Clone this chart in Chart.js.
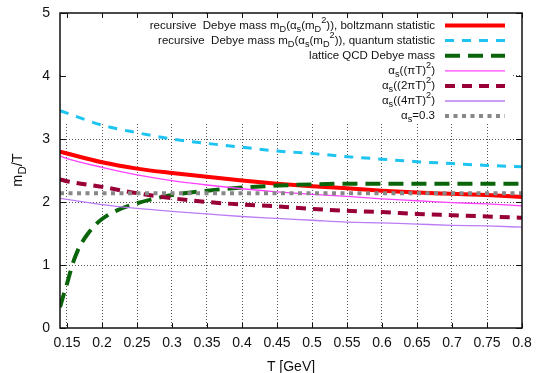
<!DOCTYPE html>
<html>
<head>
<meta charset="utf-8">
<script src="https://cdn.jsdelivr.net/npm/chart.js@4"></script>
<style>
  html, body { margin: 0; padding: 0; background: #fff; }
</style>
</head>
<body>
<canvas id="chart" width="536" height="373"></canvas>
<script>
// temperatures (GeV) for the perturbative curves
const tValues = [0.14, 0.15, 0.2, 0.25, 0.3, 0.35, 0.4, 0.45, 0.5, 0.55, 0.6, 0.65, 0.7, 0.75, 0.8];
const boltzmann = [2.80, 2.77, 2.63, 2.53, 2.46, 2.40, 2.34, 2.29, 2.25, 2.22, 2.18, 2.15, 2.13, 2.11, 2.08];
const quantum   = [3.45, 3.41, 3.22, 3.10, 3.00, 2.93, 2.87, 2.81, 2.77, 2.72, 2.68, 2.64, 2.61, 2.58, 2.56];
const alphaPiT  = [2.73, 2.69, 2.55, 2.43, 2.34, 2.27, 2.21, 2.16, 2.12, 2.09, 2.05, 2.02, 1.99, 1.97, 1.94];
const alpha2PiT = [2.36, 2.33, 2.24, 2.14, 2.06, 2.00, 1.96, 1.93, 1.89, 1.86, 1.84, 1.81, 1.79, 1.77, 1.75];
const alpha4PiT = [2.06, 2.04, 1.96, 1.90, 1.85, 1.81, 1.77, 1.74, 1.71, 1.68, 1.67, 1.65, 1.63, 1.62, 1.60];

// lattice QCD
const latticeT = [0.14, 0.145, 0.15, 0.155, 0.16, 0.165, 0.17, 0.18, 0.19, 0.2, 0.22, 0.25, 0.3, 0.35, 0.4, 0.45, 0.5, 0.55, 0.6, 0.7, 0.8];
const lattice  = [0.33, 0.52, 0.70, 0.90, 1.08, 1.22, 1.33, 1.50, 1.63, 1.73, 1.86, 1.98, 2.11, 2.18, 2.23, 2.26, 2.28, 2.29, 2.29, 2.29, 2.29];

// alpha_s = 0.3 constant
const constT = [0.14, 0.8];
const alphaConst = [2.14, 2.14];

const xTicks = [0.15, 0.2, 0.25, 0.3, 0.35, 0.4, 0.45, 0.5, 0.55, 0.6, 0.65, 0.7, 0.75, 0.8];
const yTicks = [0, 1, 2, 3, 4, 5];

const seriesNames = [
  'recursive  Debye mass m_D(α_s(m_D^2)), boltzmann statistic',
  'recursive  Debye mass m_D(α_s(m_D^2)), quantum statistic',
  'lattice QCD Debye mass',
  'α_s((πT)^2)',
  'α_s((2πT)^2)',
  'α_s((4πT)^2)',
  'α_s=0.3'
];

const FONT = '"Liberation Sans", Arial, Helvetica, sans-serif';

const pts = (xs, ys) => xs.map((x, i) => ({ x: x, y: ys[i] }));

// split "m_D^2" style text into pieces with sub/superscript shifts
function parseRich(s) {
  const out = [];
  let buf = '', i = 0;
  while (i < s.length) {
    const c = s[i];
    if ((c === '_' || c === '^') && i + 1 < s.length) {
      if (buf) { out.push({ text: buf, shift: 0 }); buf = ''; }
      let seg;
      if (s[i + 1] === '{') { const j = s.indexOf('}', i + 2); seg = s.slice(i + 2, j); i = j + 1; }
      else { seg = s[i + 1]; i += 2; }
      out.push({ text: seg, shift: c === '_' ? 1 : -1 });
    } else { buf += c; i++; }
  }
  if (buf) out.push({ text: buf, shift: 0 });
  return out;
}

function richWidth(ctx, parts, size) {
  let w = 0;
  parts.forEach(p => {
    ctx.font = (p.shift ? size * 0.8 : size) + 'px ' + FONT;
    w += ctx.measureText(p.text).width;
  });
  return w;
}

function drawRich(ctx, s, x, y, size, align) {
  const parts = parseRich(s);
  const w = richWidth(ctx, parts, size);
  let cx = align === 'right' ? x - w : align === 'center' ? x - w / 2 : x;
  ctx.textBaseline = 'middle';
  ctx.textAlign = 'left';
  parts.forEach(p => {
    const sz = p.shift ? size * 0.8 : size;
    ctx.font = sz + 'px ' + FONT;
    const dy = p.shift === 1 ? size * 0.32 : p.shift === -1 ? -size * 0.45 : 0;
    ctx.fillText(p.text, cx, y + dy);
    cx += ctx.measureText(p.text).width;
  });
}

const gnuplotLook = {
  id: 'gnuplotLook',
  beforeDatasetsDraw(chart) {
    // opaque key box hides the grid behind it
    const ctx = chart.ctx, a = chart.chartArea;
    ctx.save();
    ctx.fillStyle = '#fff';
    ctx.fillRect(a.left + 1, a.top + 1, 452, 110);
    ctx.restore();
  },
  afterDraw(chart) {
    const ctx = chart.ctx, a = chart.chartArea;
    const xs = chart.scales.x, ys = chart.scales.y;
    ctx.save();
    // frame and inward ticks
    ctx.strokeStyle = '#111';
    ctx.lineWidth = 1.5;
    ctx.strokeRect(a.left, a.top, a.right - a.left, a.bottom - a.top);
    ctx.lineWidth = 1;
    ctx.beginPath();
    xTicks.forEach(v => {
      const px = Math.round(xs.getPixelForValue(v)) + 0.5;
      ctx.moveTo(px, a.bottom); ctx.lineTo(px, a.bottom - 5);
      ctx.moveTo(px, a.top); ctx.lineTo(px, a.top + 5);
    });
    yTicks.forEach(v => {
      const py = Math.round(ys.getPixelForValue(v)) + 0.5;
      ctx.moveTo(a.left, py); ctx.lineTo(a.left + 6, py);
      ctx.moveTo(a.right, py); ctx.lineTo(a.right - 6, py);
    });
    ctx.stroke();

    // key
    ctx.fillStyle = '#111';
    chart.data.datasets.forEach((ds, i) => {
      const y = 25.5 + i * 15.1;
      drawRich(ctx, seriesNames[i], 435, y, 11.5, 'right');
      ctx.save();
      ctx.strokeStyle = ds.borderColor;
      ctx.lineWidth = ds.borderWidth;
      ctx.setLineDash(ds.borderDash || []);
      ctx.beginPath();
      ctx.moveTo(445, y); ctx.lineTo(505, y);
      ctx.stroke();
      ctx.restore();
    });

    // y axis title
    ctx.save();
    ctx.translate(18, 170);
    ctx.rotate(-Math.PI / 2);
    ctx.fillStyle = '#111';
    drawRich(ctx, 'm_D/T', 0, 0, 14.5, 'center');
    ctx.restore();
    ctx.restore();
  }
};

const CLEAR = 'rgba(0,0,0,0)';
const GRID = '#555';

new Chart(document.getElementById('chart'), {
  type: 'line',
  data: {
    datasets: [
      { data: pts(tValues, boltzmann), borderColor: '#ff0000', borderWidth: 4 },
      { data: pts(tValues, quantum), borderColor: '#1ec4f0', borderWidth: 3, borderDash: [9, 8] },
      { data: pts(latticeT, lattice), borderColor: '#0a640a', borderWidth: 4, borderDash: [15, 8] },
      { data: pts(tValues, alphaPiT), borderColor: '#ff40ff', borderWidth: 1.3 },
      { data: pts(tValues, alpha2PiT), borderColor: '#990038', borderWidth: 4, borderDash: [10, 7] },
      { data: pts(tValues, alpha4PiT), borderColor: '#bb7cf5', borderWidth: 1.3 },
      { data: pts(constT, alphaConst), borderColor: '#888888', borderWidth: 4, borderDash: [4, 4.5] }
    ].map((d, i) => Object.assign(d, { pointRadius: 0, fill: false, cubicInterpolationMode: 'monotone', order: -i }))
  },
  options: {
    responsive: false,
    animation: false,
    layout: { padding: { top: 13, right: 14, left: 0, bottom: 0 } },
    plugins: { legend: { display: false }, tooltip: { enabled: false } },
    scales: {
      x: {
        type: 'linear',
        min: 0.14,
        max: 0.8,
        afterBuildTicks: s => { s.ticks = xTicks.map(v => ({ value: v })); },
        afterFit: s => { s.height = 45; s.paddingLeft = 0; s.paddingRight = 0; },
        border: { display: false, dash: [1, 2] },
        grid: {
          drawTicks: false,
          color: c => c.index === xTicks.length - 1 ? CLEAR : GRID,
          lineWidth: 1
        },
        ticks: {
          autoSkip: false,
          maxRotation: 0,
          padding: 7,
          color: '#111',
          font: { family: FONT, size: 14 },
          callback: v => String(v)
        },
        title: {
          display: true,
          text: 'T [GeV]',
          color: '#111',
          font: { family: FONT, size: 14 },
          padding: { top: 0, bottom: -3 }
        }
      },
      y: {
        min: 0,
        max: 5,
        afterBuildTicks: s => { s.ticks = yTicks.map(v => ({ value: v })); },
        afterFit: s => { s.width = 60; s.paddingTop = 0; s.paddingBottom = 0; },
        border: { display: false, dash: [1, 2] },
        grid: {
          drawTicks: false,
          color: c => (c.index === 0 || c.index === yTicks.length - 1) ? CLEAR : GRID,
          lineWidth: 1
        },
        ticks: {
          padding: 10,
          color: '#111',
          font: { family: FONT, size: 14 }
        }
      }
    }
  },
  plugins: [gnuplotLook]
});
</script>
</body>
</html>
